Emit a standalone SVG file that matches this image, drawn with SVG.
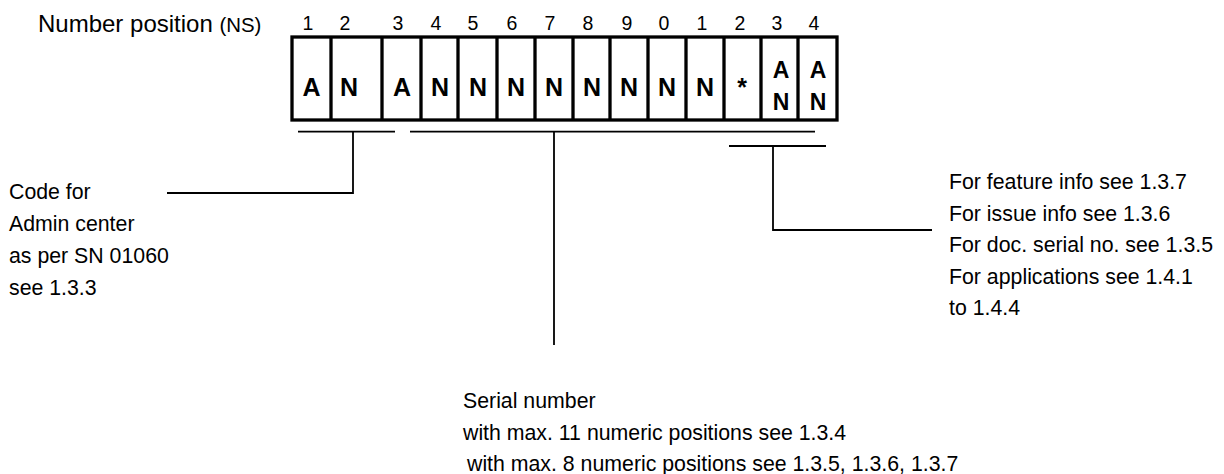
<svg xmlns="http://www.w3.org/2000/svg" width="1224" height="474" viewBox="0 0 1224 474">
<style>
text{font-family:"Liberation Sans",Arial,Helvetica,sans-serif;fill:#000}
.t{font-size:21.3px}
.d{font-size:19.5px;text-anchor:middle}
.b{font-size:25px;font-weight:bold;text-anchor:middle}
.s{font-size:23px;font-weight:bold;text-anchor:middle}
.cell{fill:none;stroke:#000;stroke-width:3.3}
.ln{fill:none;stroke:#000;stroke-width:1.8}
</style>
<rect width="1224" height="474" fill="#fff"/>
<g id="title"><text class="t" x="38" y="32" style="font-size:24px">Number position <tspan style="font-size:20.4px">(NS)</tspan></text></g>
<g id="positions">
<text class="d" x="308" y="30">1</text><text class="d" x="345" y="30">2</text><text class="d" x="398" y="30">3</text><text class="d" x="436" y="30">4</text><text class="d" x="473" y="30">5</text><text class="d" x="512" y="30">6</text><text class="d" x="550" y="30">7</text><text class="d" x="588" y="30">8</text><text class="d" x="627" y="30">9</text><text class="d" x="664" y="30">0</text><text class="d" x="702" y="30">1</text><text class="d" x="740" y="30">2</text><text class="d" x="777" y="30">3</text><text class="d" x="814" y="30">4</text>
</g>
<g id="number-box">
<rect class="cell" x="292" y="37" width="545" height="83"/>
<path class="cell" d="M331,37V120M382,37V120M421,37V120M458,37V120M497,37V120M535,37V120M573,37V120M610,37V120M648,37V120M686,37V120M724,37V120M761,37V120M798,37V120"/>
<text class="b" x="311.5" y="96">A</text><text class="b" x="349" y="96">N</text><text class="b" x="402" y="96">A</text><text class="b" x="440" y="96">N</text><text class="b" x="478" y="96">N</text><text class="b" x="516" y="96">N</text><text class="b" x="554" y="96">N</text><text class="b" x="592" y="96">N</text><text class="b" x="629" y="96">N</text><text class="b" x="667" y="96">N</text><text class="b" x="705" y="96">N</text><text class="b" x="742" y="96">*</text>
<text class="s" x="781" y="78">A</text><text class="s" x="781" y="110">N</text><text class="s" x="818" y="78">A</text><text class="s" x="818" y="110">N</text>
</g>
<g id="connectors">
<path class="ln" d="M298,131.7H395M353,131.7V193H167"/>
<path class="ln" d="M410,131.7H815M554,131.7V345"/>
<path class="ln" d="M729,146H826M773,146V230H932"/>
</g>
<g id="admin-center">
<text class="t" x="9" y="199">Code for</text><text class="t" x="9" y="231">Admin center</text><text class="t" x="9" y="263">as per SN 01060</text><text class="t" x="9" y="295">see 1.3.3</text>
</g>
<g id="serial-number">
<text class="t" x="463" y="408">Serial number</text><text class="t" x="463" y="440">with max. 11 numeric positions see 1.3.4</text><text class="t" x="467" y="471">with max. 8 numeric positions see 1.3.5, 1.3.6, 1.3.7</text>
</g>
<g id="feature-info">
<text class="t" x="949" y="189">For feature info see  1.3.7</text><text class="t" x="949" y="220.5">For issue info see 1.3.6</text><text class="t" x="949" y="252">For doc. serial no. see 1.3.5</text><text class="t" x="949" y="283.5">For applications see 1.4.1</text><text class="t" x="949" y="315">to 1.4.4</text>
</g>
</svg>
